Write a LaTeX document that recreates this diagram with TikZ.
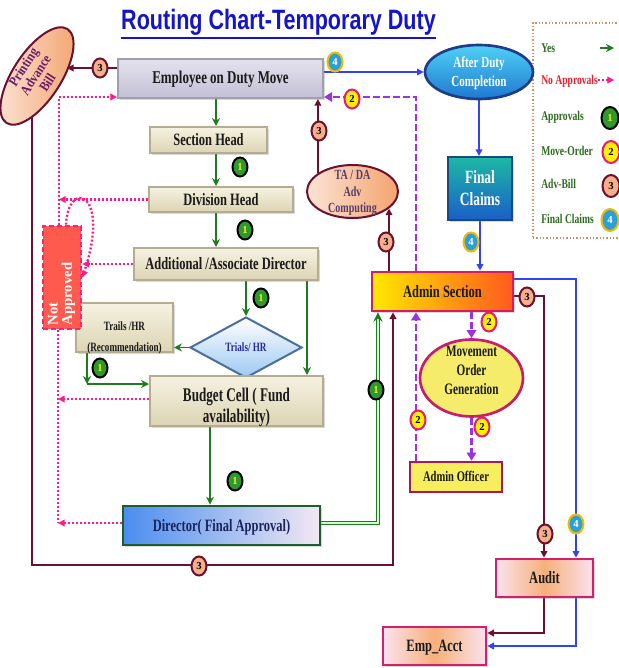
\documentclass[tikz,border=0pt]{standalone}
\usepackage{fontspec}
\setmainfont{Liberation Serif}
\newfontfamily\ttlfont{Liberation Sans}
\usepackage{graphicx}
\usetikzlibrary{arrows.meta,shapes.geometric,shadows}
\newdimen\pxu \pxu=0.75pt
\newcommand{\fsz}[1]{\fontsize{#1}{#1}\selectfont}
\newcommand{\ntx}[4][0pt]{\fsz{#2}\makebox[0pt]{\raisebox{\dimexpr-0.35em+#1\relax}[0pt][0pt]{\scalebox{#3}[1]{\begin{tabular}{@{}c@{}}#4\end{tabular}}}}}
\pgfdeclarelayer{bg}
\pgfsetlayers{bg,main}
\definecolor{grn}{HTML}{1E7B1E}
\definecolor{lgrn}{HTML}{2E6B1E}
\definecolor{pnk}{HTML}{FF1A8C}
\definecolor{pur}{HTML}{9A32E6}
\definecolor{mar}{HTML}{6B1030}
\definecolor{blu}{HTML}{3344EE}
\definecolor{ttl}{HTML}{1414C8}
\definecolor{lred}{HTML}{E8202A}
\definecolor{txtD}{HTML}{1A1A1A}
\definecolor{bgT}{HTML}{F6F2E1}
\definecolor{bgB}{HTML}{DCD4B4}
\definecolor{bgD}{HTML}{B5AD92}
\definecolor{empT}{HTML}{E4E1EE}
\definecolor{empB}{HTML}{C4C0D6}
\definecolor{empD}{HTML}{A0A0AA}
\definecolor{pchL}{HTML}{FCE3D5}
\definecolor{pchR}{HTML}{F3A46E}
\definecolor{pabT}{HTML}{6A1A6A}
\definecolor{tadT}{HTML}{5A3A6A}
\definecolor{dirL}{HTML}{4A8DF0}
\definecolor{dirR}{HTML}{F3E8F3}
\definecolor{dirD}{HTML}{1E5E28}
\definecolor{dirT}{HTML}{1A2560}
\definecolor{admL}{HTML}{FFE800}
\definecolor{admR}{HTML}{FF5A1E}
\definecolor{admD}{HTML}{D81C64}
\definecolor{mogF}{HTML}{F4EC6A}
\definecolor{mogD}{HTML}{C81C6E}
\definecolor{aoF}{HTML}{F6EE5C}
\definecolor{aoD}{HTML}{A8185A}
\definecolor{audL}{HTML}{FBE2EE}
\definecolor{audM}{HTML}{F6B07A}
\definecolor{audD}{HTML}{D41F6E}
\definecolor{fcT}{HTML}{1DB8A5}
\definecolor{fcB}{HTML}{1A5FC8}
\definecolor{fcD}{HTML}{1B4A7A}
\definecolor{adcT}{HTML}{4FD0F5}
\definecolor{adcB}{HTML}{1E78D0}
\definecolor{adcD}{HTML}{1F3C88}
\definecolor{diaB}{HTML}{9CC8F2}
\definecolor{diaD}{HTML}{4A6E9E}
\definecolor{diaT}{HTML}{2A2AA0}
\definecolor{napF}{HTML}{FF5A4E}
\definecolor{napD}{HTML}{FF2078}
\definecolor{lgD}{HTML}{C89070}
\definecolor{b1F}{HTML}{2E9A2E}
\definecolor{b1T}{HTML}{E6F020}
\definecolor{b2F}{HTML}{FFF200}
\definecolor{b2D}{HTML}{E8187A}
\definecolor{b3F}{HTML}{F5B08A}
\definecolor{b4F}{HTML}{2AA0D8}
\definecolor{b4D}{HTML}{F5B800}
\tikzset{
 nbox/.style={rectangle, inner sep=0pt, line width=1.5pt, font=\bfseries},
 shd/.style={drop shadow={opacity=0.3,shadow xshift=1.6pt,shadow yshift=-1.6pt}},
 beige/.style={nbox, shd, draw=bgD, top color=bgT, bottom color=bgB, text=txtD},
 bdg/.style={ellipse, inner sep=0pt, minimum width=15\pxu, minimum height=19\pxu, line width=1.5pt, font=\bfseries\fsz{8}},
 bone/.style={bdg, draw=black, fill=b1F, text=b1T},
 btwo/.style={bdg, draw=b2D, fill=b2F, text=black},
 bthree/.style={bdg, draw=mar, fill=b3F, text=black},
 bfour/.style={bdg, draw=b4D, fill=b4F, text=white},
 big/.style={minimum width=17\pxu, minimum height=22\pxu},
 gc/.style={draw=grn, line width=1.3pt, -{Stealth[length=6pt,width=6pt]}},
 gdbl/.style={draw=grn, line width=0.9pt, double=green!20, double distance=1.3pt, -{Stealth[length=7pt,width=7pt]}},
 mc/.style={draw=mar, line width=1.3pt, -{Triangle[length=5pt,width=5pt]}},
 bc/.style={draw=blu, line width=1.3pt, -{Triangle[length=5pt,width=5pt]}},
 pc/.style={draw=pur, line width=2pt, dash pattern=on 5pt off 2.5pt, -{Triangle[length=6pt,width=7pt]}},
 kcn/.style={draw=pnk, line width=1.8pt, dash pattern=on 1.5pt off 1.5pt},
 kc/.style={kcn, -{Triangle[length=5pt,width=5pt]}},
 lgt/.style={anchor=west, inner sep=0pt, font=\bfseries\fsz{10}},
}
\begin{document}
\begin{tikzpicture}[x=0.75pt,y=-0.75pt]
\useasboundingbox (0,0) rectangle (618,668);
% guide coordinates
\coordinate (cA) at (216,0);
\coordinate (cC) at (307,0);
\coordinate (cD) at (210,0);
\coordinate (cE) at (378,0);
\coordinate (cF) at (393,0);
\coordinate (cG) at (416,0);
\coordinate (cL) at (576,0);
\coordinate (cM) at (544,0);
\coordinate (cN) at (32,0);
\coordinate (cO) at (59,0);
\coordinate (cP) at (58,0);
\coordinate (cQ) at (87,0);
\coordinate (rA) at (0,68);
\coordinate (rB) at (0,97);
\coordinate (rF) at (0,384);
\coordinate (rG) at (0,399);
\coordinate (rH) at (0,523);
\coordinate (rI) at (0,565);
\coordinate (rJ) at (0,279);
\coordinate (rK) at (0,296);
\coordinate (rL) at (0,633);
\coordinate (rM) at (0,646);

% title
\node[inner sep=0pt, text=ttl, font=\ttlfont\bfseries\fsz{21}] (title) at (278.5,22.7) {\scalebox{0.77}[1]{Routing Chart-Temporary Duty}};
\draw[ttl, line width=2pt] ([yshift=-1.5pt]title.south west) -- ([yshift=-1.5pt]title.south east);

% legend
\node[draw=lgD, line width=1pt, dash pattern=on 1pt off 1.5pt, fill=white, minimum width=91\pxu, minimum height=215\pxu, inner sep=0pt] (lgb) at (578.5,130.5) {};
\node[lgt, text=lgrn] (l1) at (541,48) {\scalebox{0.72}[1]{Yes}};
\node[lgt, text=lred] (l2) at (541,81) {\scalebox{0.72}[1]{No Approvals}};
\node[lgt, text=lgrn] (l3) at (541,117) {\scalebox{0.72}[1]{Approvals}};
\node[lgt, text=lgrn] (l4) at (541,151) {\scalebox{0.72}[1]{Move-Order}};
\node[lgt, text=lgrn] (l5) at (541,184) {\scalebox{0.72}[1]{Adv-Bill}};
\node[lgt, text=lgrn] (l6) at (541,219) {\scalebox{0.72}[1]{Final Claims}};
\coordinate (la1) at (600,48);
\coordinate (la2) at (614,48);
\coordinate (lb1) at (598,80);
\coordinate (lb2) at (614,80);
\draw[gc] (la1) -- (la2);
\draw[kc] (lb1) -- (lb2);
\node[bone, big] (lg1) at (610,118) {1};
\node[btwo, big] (lg2) at (611,152) {2};
\node[bthree, big] (lg3) at (611,186) {3};
\node[bfour, big] (lg4) at (610,220) {4};

% main nodes
\node[nbox, shd, draw=empD, top color=empT, bottom color=empB, text=txtD, minimum width=205\pxu, minimum height=39\pxu] (emp) at (220.5,78.5) {\ntx{13.5}{0.72}{Employee on Duty Move}};
\node[ellipse, draw=mar, line width=1.5pt, left color=pchL, right color=pchR, minimum width=112\pxu, minimum height=48\pxu, inner sep=0pt, rotate=57, text=pabT, font=\bfseries] (pab) at (37,76) {\def\arraystretch{1.02}\ntx[1pt]{10.5}{0.85}{Printing\\Advance\\Bill}};
\node[beige, minimum width=117\pxu, minimum height=26\pxu] (sec) at (208.5,140) {\ntx{13}{0.72}{Section Head}};
\node[beige, minimum width=144\pxu, minimum height=25\pxu] (div) at (221,199.5) {\ntx{13}{0.72}{Division Head}};
\node[beige, minimum width=184\pxu, minimum height=32\pxu] (add) at (226,264) {\ntx{13}{0.72}{Additional /Associate Director}};
\node[diamond, draw=diaD, line width=1.5pt, top color=white, bottom color=diaB, minimum width=112\pxu, minimum height=61\pxu, inner sep=0pt, text=diaT, font=\bfseries] (dia) at (246,347.5) {\ntx{9.5}{0.72}{Trials/ HR}};
\node[beige, minimum width=97\pxu, minimum height=49\pxu] (trl) at (124.5,327.5) {\def\arraystretch{1.65}\ntx[-6pt]{9.5}{0.72}{Trails /HR\\(Recommendation)}};
\node[beige, minimum width=173\pxu, minimum height=50\pxu] (bud) at (236.5,401) {\def\arraystretch{1.1}\ntx[-3.5pt]{14.5}{0.68}{Budget Cell ( Fund\\availability)}};
\node[nbox, shd, draw=dirD, line width=2pt, left color=dirL, right color=dirR, text=dirT, minimum width=197\pxu, minimum height=39\pxu] (dir) at (221.5,525.5) {\ntx{13}{0.72}{Director( Final Approval)}};
\node[rectangle, draw=napD, dash pattern=on 4pt off 2pt, line width=2pt, fill=napF, minimum width=38\pxu, minimum height=103\pxu, inner sep=0pt] (nap) at (62,277.5) {};
\node[rotate=90, text=white, font=\bfseries\fsz{11}, inner sep=0pt] (napt) at (62,294) {\def\arraystretch{0.95}\begin{tabular}{@{}l@{}}Not\\Approved\end{tabular}};
\node[ellipse, draw=mar, line width=1.5pt, left color=pchL, right color=pchR, minimum width=91\pxu, minimum height=53\pxu, inner sep=0pt, text=tadT, font=\bfseries] (tada) at (352.5,191.5) {\def\arraystretch{1.2}\ntx{10.5}{0.72}{TA / DA\\Adv\\Computing}};
\node[ellipse, draw=adcD, line width=2pt, top color=adcT, bottom color=adcB, minimum width=108\pxu, minimum height=54\pxu, inner sep=0pt, text=white, font=\bfseries] (adc) at (479,72) {\def\arraystretch{1.2}\ntx{11.5}{0.72}{After Duty\\Completion}};
\node[nbox, shd, draw=fcD, top color=fcT, bottom color=fcB, text=white, minimum width=64\pxu, minimum height=63\pxu] (fc) at (480,188.5) {\def\arraystretch{1.2}\ntx{14}{0.72}{Final\\Claims}};
\node[nbox, shd, draw=admD, line width=2pt, left color=admL, right color=admR, text=txtD, minimum width=141\pxu, minimum height=39\pxu] (adm) at (442.5,291.5) {\ntx{13}{0.72}{Admin Section}};
\node[ellipse, draw=mogD, line width=2pt, fill=mogF, minimum width=103\pxu, minimum height=77\pxu, inner sep=0pt, text=txtD, font=\bfseries] (mog) at (471.5,378) {\def\arraystretch{1.2}\ntx[6pt]{12}{0.7}{Movement\\Order\\Generation}};
\node[nbox, draw=aoD, line width=2pt, fill=aoF, text=txtD, minimum width=92\pxu, minimum height=30\pxu] (ao) at (456,477) {\ntx{11}{0.72}{Admin Officer}};
\node[nbox, shd, draw=audD, line width=2pt, left color=audL, right color=audL, middle color=audM, text=txtD, minimum width=97\pxu, minimum height=38\pxu] (aud) at (544.5,578) {\ntx{13}{0.72}{Audit}};
\node[nbox, shd, draw=audD, line width=2pt, left color=audL, right color=audL, middle color=audM, text=txtD, minimum width=103\pxu, minimum height=38\pxu] (ea) at (434.5,646) {\ntx{13}{0.72}{Emp\_Acct}};

% badges
\node[bthree] (bA) at (100,68) {3};
\node[bfour] (bB) at (335,62) {4};
\node[btwo] (bC) at (352,99) {2};
\node[bthree] (bD) at (319,131) {3};
\node[bone] (bE) at (240,167) {1};
\node[bone] (bF) at (245,230) {1};
\node[bone] (bG) at (261,298) {1};
\node[bone] (bH) at (100,368) {1};
\node[bone] (bI) at (235,481) {1};
\node[bthree] (bJ) at (199,566) {3};
\node[bone] (bK) at (376,390) {1};
\node[btwo] (bL) at (418,420) {2};
\node[bthree] (bM) at (386,242) {3};
\node[bfour] (bN) at (471,242) {4};
\node[btwo] (bO) at (489,322) {2};
\node[btwo] (bP) at (482,427) {2};
\node[bthree] (bQ) at (527,297) {3};
\node[bthree] (bR) at (545,534) {3};
\node[bfour] (bS) at (576,524) {4};

% connectors
\begin{pgfonlayer}{bg}
\fill[white] (0,0) rectangle (618,668);
% green approvals
\draw[gc] (cA |- emp.south) -- (cA |- sec.north);
\draw[gc] (cA |- sec.south) -- (cA |- div.north);
\draw[gc] (cA |- div.south) -- (cA |- add.north);
\draw[gc] (add.south -| dia.north) -- (dia.north);
\draw[gc] (cC |- add.south) -- (cC |- bud.north);
\draw[gc] (dia.west) -- (dia.west -| trl.east);
\draw[gc] (cQ |- trl.south) -- (cQ |- rF);
\draw[gc, line width=2pt] (cQ |- rF) -- (bud.west |- rF);
\draw[gc] (cD |- bud.south) -- (cD |- dir.north);
\draw[gdbl] (dir.east |- rH) -- (cE |- rH) -- (cE |- adm.south);
% maroon advance bill
\draw[mc, shorten >=30\pxu] (emp.west |- rA) -- (pab.center |- rA);
\draw[mc] (cN |- pab.center) -- (cN |- rI) -- (cF |- rI) -- (cF |- adm.south);
\draw[mc] (tada.-25 |- adm.north) -- (tada.-25);
\draw[mc] (tada.152) -- (tada.152 |- emp.south);
\draw[mc] (adm.east |- rK) -- (cM |- rK) -- (cM |- aud.north);
\draw[mc] (cM |- aud.south) -- (cM |- rL) -- (ea.east |- rL);
% blue final claims
\draw[bc] (emp.east |- adc) -- (adc.west);
\draw[bc] (adc.south) -- (adc.south |- fc.north);
\draw[bc] (fc.south) -- (fc.south |- adm.north);
\draw[bc] (adm.east |- rJ) -- (cL |- rJ) -- (cL |- aud.north);
\draw[bc] (cL |- aud.south) -- (cL |- rM) -- (ea.east |- rM);
% purple move order
\draw[pc] (cG |- adm.north) -- (cG |- rB) -- (emp.east |- rB);
\draw[pc] (cG |- ao.north) -- (cG |- adm.south);
\draw[pc] (adm.south -| mog.north) -- (mog.north);
\draw[pc] (mog.south) -- (mog.south |- ao.north);
% pink not approved
\draw[kc] (cO |- nap.north) -- (cO |- rB) -- (emp.west |- rB);
\draw[kc] (div.west) -- (div.west -| cO);
\draw[kc] ([xshift=4\pxu]nap.north) .. controls +(2,-46) and +(29,-87) .. (nap.east);
\draw[kc] (add.west) -- (add.west -| nap.east);
\draw[kcn] (cP |- nap.south) -- (cP |- rH);
\draw[kc] (bud.west |- rG) -- (cP |- rG);
\draw[kc] (dir.west |- rH) -- (cP |- rH);
\end{pgfonlayer}
\end{tikzpicture}
\end{document}
